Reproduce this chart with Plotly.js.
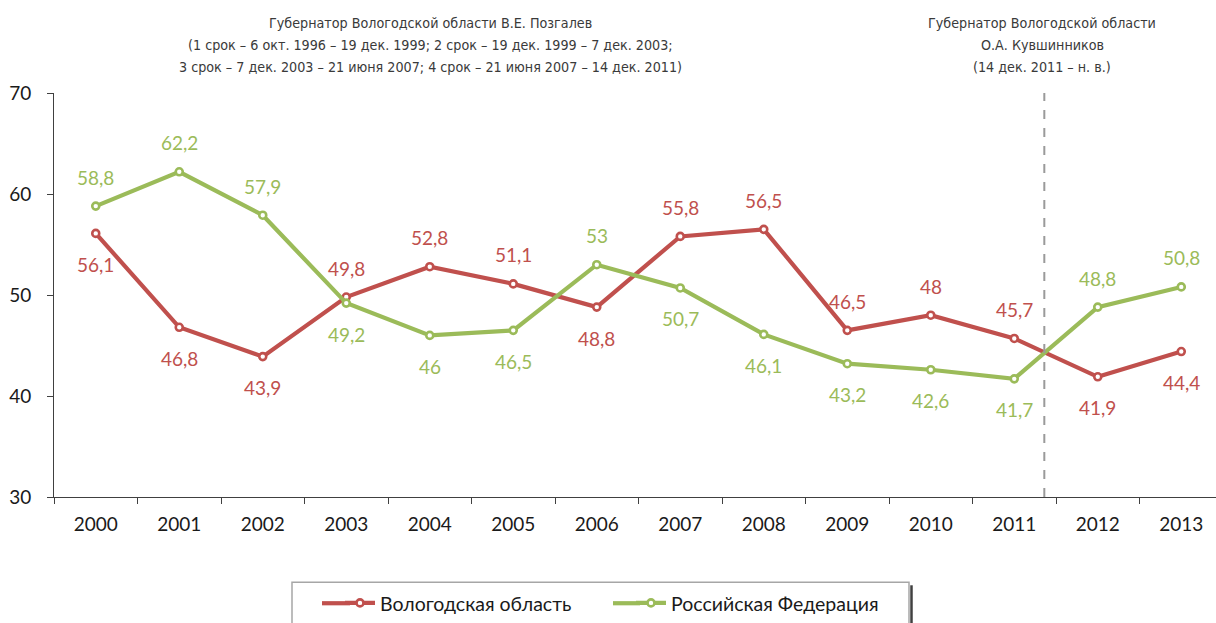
<!DOCTYPE html>
<html><head><meta charset="utf-8">
<script src="https://cdn.plot.ly/plotly-3.0.1.min.js"></script>
<style>html,body{margin:0;padding:0;background:#fff}#chart{width:1216px;height:623px}</style>
</head><body><div id="chart"></div>
<script>
const years = ['2000','2001','2002','2003','2004','2005','2006','2007','2008','2009','2010','2011','2012','2013'];
const vologda = [56.1,46.8,43.9,49.8,52.8,51.1,48.8,55.8,56.5,46.5,48,45.7,41.9,44.4];
const russia  = [58.8,62.2,57.9,49.2,46,46.5,53,50.7,46.1,43.2,42.6,41.7,48.8,50.8];
// label placement: 1 = above, -1 = below
const vologdaLabelPos = [-1,-1,-1,1,1,1,-1,1,1,1,1,1,-1,-1];
const russiaLabelPos  = [1,1,1,-1,-1,-1,1,-1,-1,-1,-1,-1,1,1];
const seriesNames = ['Вологодская область','Российская Федерация'];
const leftNote = ['Губернатор Вологодской области В.Е. Позгалев',
  '(1 срок – 6 окт. 1996 – 19 дек. 1999; 2 срок – 19 дек. 1999 – 7 дек. 2003;',
  '3 срок – 7 дек. 2003 – 21 июня 2007; 4 срок – 21 июня 2007 – 14 дек. 2011)'];
const rightNote = ['Губернатор Вологодской области','О.А. Кувшинников','(14 дек. 2011 – н. в.)'];
const dividerX = 11.36;

const RED = '#C0504D', GREEN = '#9BBB59';
const fmt = v => String(v).replace('.', ',');
const PL = 54, PB = 497.5, PW = 1162, PH = 405;
const px = x => (x - PL) / PW, py = y => (PB - y) / PH;

function trace(name, ys, color){
  return {type:'scatter', mode:'lines+markers', name, x:years, y:ys,
    line:{color, width:4.2},
    marker:{symbol:'circle', size:7, color:'#fff', line:{color, width:2.6}},
    hoverinfo:'skip', cliponaxis:false};
}

const annotations = [];
function addLabels(ys, pos, color){
  ys.forEach((v,i)=>{
    annotations.push({x:i, y:v, xref:'x', yref:'y', text:fmt(v), showarrow:false,
      yshift: pos[i] > 0 ? 29 : -31, font:{family:'Lato, "Open Sans", sans-serif', size:19, color}});
  });
}
addLabels(vologda, vologdaLabelPos, RED);
addLabels(russia, russiaLabelPos, GREEN);

const noteFont = {family:'"Liberation Sans Narrow", "DejaVu Sans Condensed", sans-serif', size:14.2, color:'#3a3a3a'};
leftNote.forEach((t,i)=>annotations.push({xref:'paper', yref:'paper', x:px(430), y:py(22+22*i),
  xanchor:'center', yanchor:'middle', text:t, showarrow:false, font:noteFont}));
rightNote.forEach((t,i)=>annotations.push({xref:'paper', yref:'paper', x:px(1042), y:py(22+22*i),
  xanchor:'center', yanchor:'middle', text:t, showarrow:false, font:noteFont}));

const layout = {
  width:1216, height:623,
  margin:{l:PL, r:0, t:92.5, b:125.5},
  paper_bgcolor:'#fff', plot_bgcolor:'#fff',
  showlegend:true,
  legend:{orientation:'h', x:px(340), xanchor:'left', y:py(604), yanchor:'middle',
    font:{family:'Lato, "Open Sans", sans-serif', size:19.5, color:'#1a1a1a'},
    borderwidth:0, bgcolor:'rgba(0,0,0,0)', entrywidth:246, entrywidthmode:'pixels'},
  xaxis:{type:'category', range:[-0.5, 13.416], tickson:'boundaries', ticks:'outside', ticklen:6,
    tickcolor:'#404040', showline:true, linecolor:'#404040', linewidth:1, showgrid:false, zeroline:false,
    ticklabelstandoff:10,
    tickfont:{family:'Lato, "Open Sans", sans-serif', size:19, color:'#1a1a1a'}, fixedrange:true},
  yaxis:{range:[30,70], dtick:10, ticks:'outside', ticklen:6, tickcolor:'#404040',
    showline:true, linecolor:'#404040', linewidth:1, showgrid:false, zeroline:false,
    ticklabelstandoff:12,
    tickfont:{family:'Lato, "Open Sans", sans-serif', size:19, color:'#1a1a1a'}, fixedrange:true},
  shapes:[
    {type:'line', xref:'x', yref:'y', x0:dividerX, x1:dividerX, y0:30, y1:70,
      line:{color:'#9a9a9a', width:2, dash:'dash'}},
    {type:'rect', xref:'paper', yref:'paper', x0:px(292), x1:px(909),
      y0:py(583), y1:py(640), line:{color:'#a6a6a6', width:1.5}, fillcolor:'rgba(0,0,0,0)'},
    {type:'line', xref:'paper', yref:'paper', x0:px(911.5), x1:px(911.5),
      y0:py(586), y1:py(640), line:{color:'#404040', width:2.5}},
    // lengthen legend line symbols to match the reference
    {type:'line', xref:'paper', yref:'paper', x0:px(322), x1:px(350), y0:py(604), y1:py(604),
      line:{color:RED, width:4.2}},
    {type:'line', xref:'paper', yref:'paper', x0:px(613), x1:px(640), y0:py(604), y1:py(604),
      line:{color:GREEN, width:4.2}}
  ],
  annotations
};

Plotly.newPlot('chart', [trace(seriesNames[0], vologda, RED), trace(seriesNames[1], russia, GREEN)], layout,
  {staticPlot:true, displayModeBar:false});
</script></body></html>
